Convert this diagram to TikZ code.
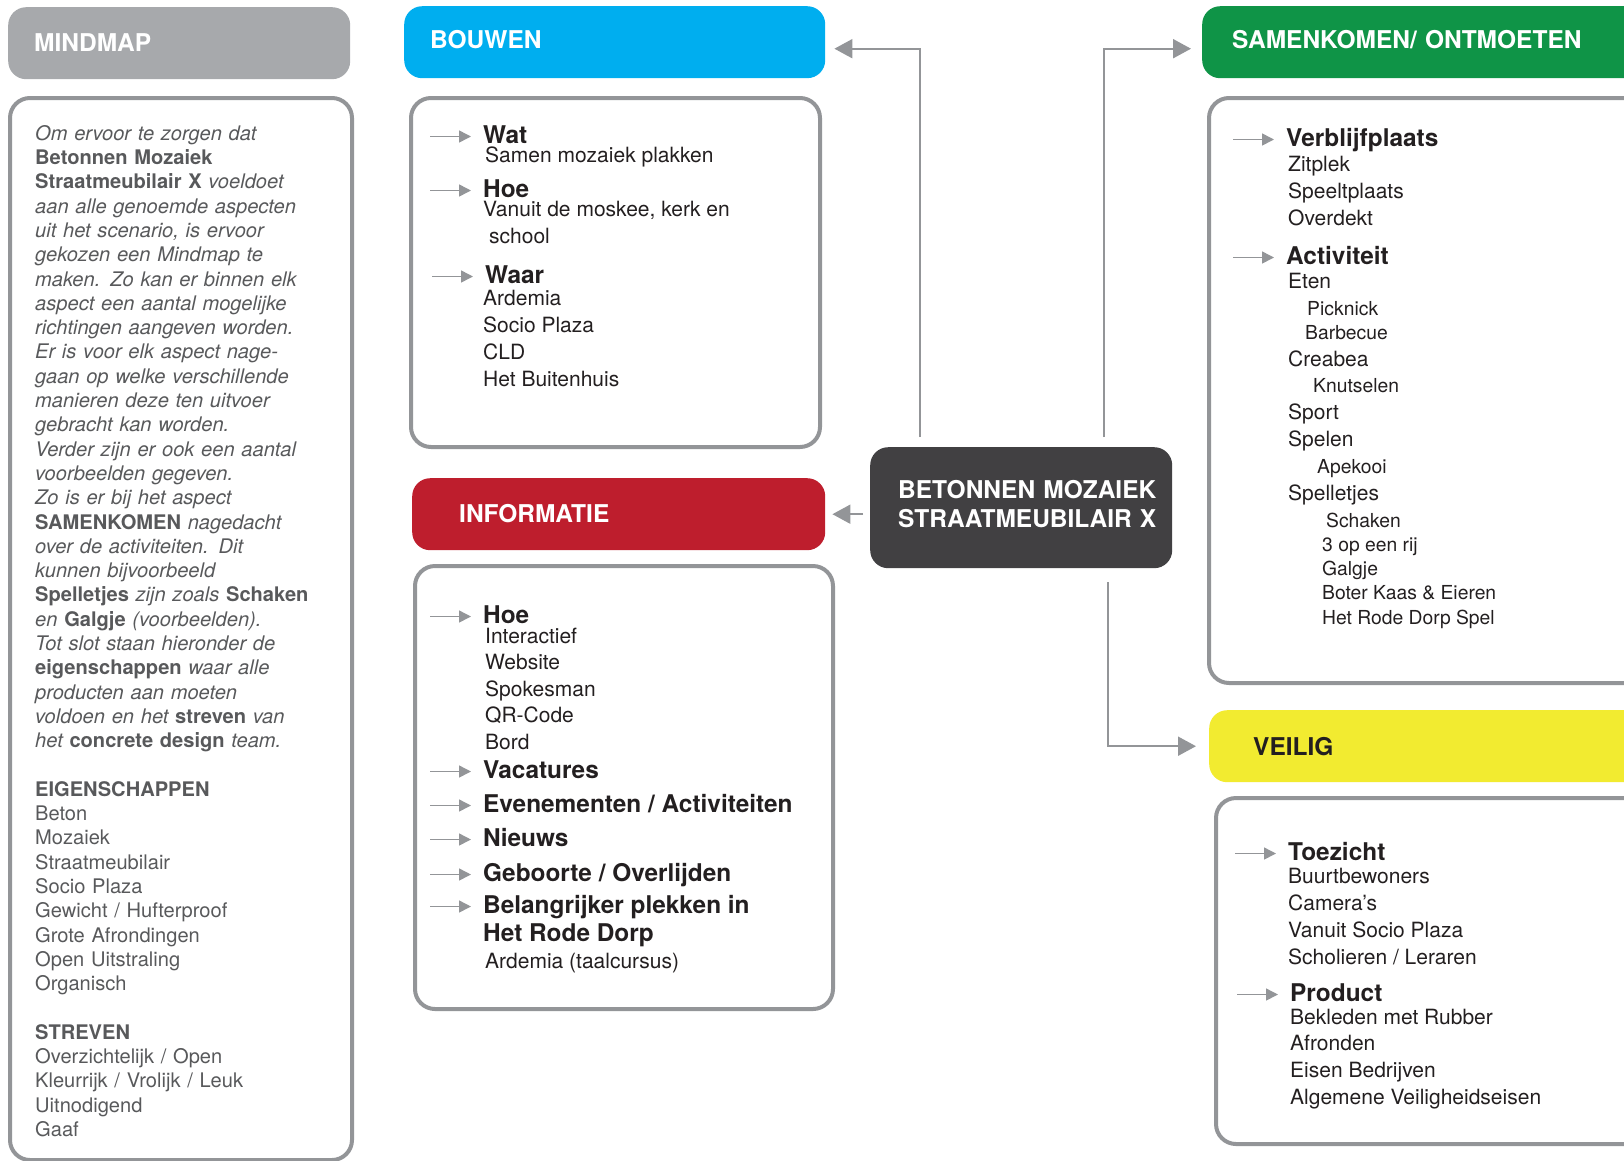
\documentclass[tikz,border=0pt]{standalone}
\usepackage{fontspec}
\setmainfont{TeX Gyre Heros}
\usetikzlibrary{arrows.meta}

\definecolor{hdrgray}{HTML}{A7A9AC}
\definecolor{bouwencyan}{HTML}{00AEEF}
\definecolor{inforood}{HTML}{BE1E2D}
\definecolor{samengroen}{HTML}{0F9447}
\definecolor{veiliggeel}{HTML}{F2EB30}
\definecolor{kerngrijs}{HTML}{414042}
\definecolor{lijngrijs}{HTML}{939598}
\definecolor{inkt}{HTML}{231F20}
\definecolor{mmgrijs}{HTML}{58595B}

\newcommand{\kw}[1]{{\upshape\bfseries #1}}

\begin{document}
\begin{tikzpicture}[x=1pt, y=-1pt,
  header/.style={anchor=north west, rounded corners=18pt, minimum height=72pt, inner ysep=0pt, text depth=6pt, align=left, text=white, font=\fontsize{24.5}{29}\selectfont\bfseries},
  body/.style={anchor=north west, draw=lijngrijs, line width=4pt, rounded corners=20pt, inner sep=0pt},
  kop/.style={anchor=base west, inner sep=0pt, text height=18pt, text depth=5pt, text=inkt, font=\fontsize{24.4}{28}\selectfont\bfseries},
  item/.style={anchor=base west, inner sep=0pt, text=inkt, font=\fontsize{21}{26}\selectfont},
  subitem/.style={anchor=base west, inner sep=0pt, text=inkt, font=\fontsize{19.3}{23}\selectfont},
  conn/.style={draw=lijngrijs, line width=2pt, -{Triangle[length=18pt,width=19pt]}},
  pointer/.style={draw=lijngrijs, line width=1.5pt, -{Triangle[length=12pt,width=12pt]}}
]

\useasboundingbox (0,0) rectangle (1624,1160);
\clip (0,0) rectangle (1624,1160);

% ============================================
% Headers and frames
% ============================================
\node[header, fill=hdrgray, inner xsep=26pt, text width=290pt, text depth=2pt] (mindmap) at (8,7) {MINDMAP};
\node[body, minimum width=342pt, minimum height=1062pt] (mindmapvak) at (8,96) {};

\node[header, fill=bouwencyan, inner xsep=26pt, text width=369pt] (bouwen) at (404,6) {BOUWEN};
\node[body, minimum width=409pt, minimum height=349pt] (bouwenvak) at (409,96) {};

\node[header, fill=inforood, inner xsep=47pt, text width=319pt, text depth=2pt] (info) at (412,478) {INFORMATIE};
\node[body, minimum width=418pt, minimum height=443pt] (infovak) at (413,564) {};

\node[header, fill=samengroen, inner xsep=30pt, text width=390pt] (samen) at (1202,6) {SAMENKOMEN/ ONTMOETEN};
\node[body, minimum width=450pt, minimum height=585pt] (samenvak) at (1207,96) {};

\node[header, fill=veiliggeel, text=inkt, inner xsep=44pt, text width=362pt, text depth=0pt] (veilig) at (1209,710) {VEILIG};
\node[body, minimum width=450pt, minimum height=346pt] (veiligvak) at (1214,796) {};

\node[header, fill=kerngrijs, minimum height=121pt, inner xsep=28pt, text width=246pt, text depth=37pt] (kern) at (870,447) {\mbox{BETONNEN MOZAIEK}\\\mbox{STRAATMEUBILAIR X}};

% Connectors from the centre
\draw[conn, shorten <=10pt, shorten >=9pt] ([xshift=50pt]kern.north west) |- ([yshift=-6.5pt]bouwen.east);
\draw[conn, shorten <=10pt, shorten >=11pt] ([xshift=-68pt]kern.north east) |- ([yshift=-6.5pt]samen.west);
\draw[conn, shorten <=7pt, shorten >=7pt] (info.east -| kern.west) -- (info.east);
\draw[conn, shorten <=14pt, shorten >=13pt] ([xshift=-64pt]kern.south east) |- (veilig.west);

% ============================================
% MINDMAP text
% ============================================
\node[anchor=north west, inner sep=0pt, text width=300pt, align=left, text=mmgrijs, font=\fontsize{20.1}{24.3}\selectfont\itshape] (mmtekst) at (35,125) {%
Om ervoor te zorgen dat\\
\kw{Betonnen Mozaiek}\\
\kw{Straatmeubilair X} voeldoet\\
aan alle genoemde aspecten\\
uit het scenario, is ervoor\\
gekozen een Mindmap te\\
maken. Zo kan er binnen elk\\
aspect een aantal mogelijke\\
richtingen aangeven worden.\\
Er is voor elk aspect nage-\\
gaan op welke verschillende\\
manieren deze ten uitvoer\\
gebracht kan worden.\\
Verder zijn er ook een aantal\\
voorbeelden gegeven.\\
Zo is er bij het aspect\\
\kw{SAMENKOMEN} nagedacht\\
over de activiteiten. Dit\\
kunnen bijvoorbeeld\\
\kw{Spelletjes} zijn zoals \kw{Schaken}\\
en \kw{Galgje} (voorbeelden).\\
Tot slot staan hieronder de\\
\kw{eigenschappen} waar alle\\
producten aan moeten\\
voldoen en het \kw{streven} van\\
het \kw{concrete design} team.\\[24.3pt]
\kw{EIGENSCHAPPEN}\\
\upshape Beton\\
Mozaiek\\
Straatmeubilair\\
Socio Plaza\\
Gewicht / Hufterproof\\
Grote Afrondingen\\
Open Uitstraling\\
Organisch\\[24.3pt]
\kw{STREVEN}\\
Overzichtelijk / Open\\
Kleurrijk / Vrolijk / Leuk\\
Uitnodigend\\
Gaaf};

% ============================================
% BOUWEN
% ============================================
\node[kop] (wat) at (483,143) {Wat};
\node[item] (wat-0) at (485,162) {Samen mozaiek plakken};
\node[kop] (hoe) at (483,197) {Hoe};
\node[item] (hoe-0) at (483,216) {Vanuit de moskee, kerk en};
\node[item] (hoe-1) at (489,243) {school};
\node[kop] (waar) at (485,283) {Waar};
\foreach \t [count=\i from 0] in {Ardemia, Socio Plaza, CLD, Het Buitenhuis}
  \node[item] (waar-\i) at (483,{305+27*\i}) {\t};

% ============================================
% INFORMATIE
% ============================================
\node[kop] (ihoe) at (483,623) {Hoe};
\foreach \t [count=\i from 0] in {Interactief, Website, Spokesman, QR-Code, Bord}
  \node[item] (ihoe-\i) at (485,{643+26.5*\i}) {\t};
\node[kop] (vac) at (483,778) {Vacatures};
\node[kop] (even) at (483,812) {Evenementen / Activiteiten};
\node[kop] (nieuws) at (483,846) {Nieuws};
\node[kop] (geb) at (483,881) {Geboorte / Overlijden};
\node[kop] (belang) at (483,913) {Belangrijker plekken in};
\node[kop] (dorp) at (483,941) {Het Rode Dorp};
\node[item] (taal) at (485,968) {Ardemia (taalcursus)};

% ============================================
% SAMENKOMEN / ONTMOETEN
% ============================================
\node[kop] (verblijf) at (1286,146) {Verblijfplaats};
\foreach \t [count=\i from 0] in {Zitplek, Speeltplaats, Overdekt}
  \node[item] (verblijf-\i) at (1288,{171+27*\i}) {\t};
\node[kop] (activ) at (1286,264) {Activiteit};
\node[item] (eten) at (1288,288) {Eten};
\node[subitem] (picknick) at (1307,315) {Picknick};
\node[subitem] (barbecue) at (1305,339) {Barbecue};
\node[item] (creabea) at (1288,366) {Creabea};
\node[subitem] (knutselen) at (1313,392) {Knutselen};
\node[item] (sport) at (1288,419) {Sport};
\node[item] (spelen) at (1288,446) {Spelen};
\node[subitem] (apekooi) at (1317,473) {Apekooi};
\node[item] (spelletjes) at (1288,500) {Spelletjes};
\node[subitem] (schaken) at (1326,527) {Schaken};
\foreach \t [count=\i from 0] in {3 op een rij, Galgje, Boter Kaas \& Eieren, Het Rode Dorp Spel}
  \node[subitem] (spel-\i) at (1322,{551+24.4*\i}) {\t};

% ============================================
% VEILIG
% ============================================
\node[kop] (toez) at (1288,860) {Toezicht};
\foreach \t [count=\i from 0] in {Buurtbewoners, Camera’s, Vanuit Socio Plaza, Scholieren / Leraren}
  \node[item] (toez-\i) at (1288,{883+27*\i}) {\t};
\node[kop] (prod) at (1290,1001) {Product};
\foreach \t [count=\i from 0] in {Bekleden met Rubber, Afronden, Eisen Bedrijven, Algemene Veiligheidseisen}
  \node[item] (prod-\i) at (1290,{1024+26.7*\i}) {\t};

% Small pointers in front of each heading
\foreach \k in {wat, hoe, waar, ihoe, vac, even, nieuws, geb, belang, verblijf, activ, toez, prod}
  \draw[pointer] ([xshift=-53pt]\k.west) -- ([xshift=-12pt]\k.west);

\end{tikzpicture}
\end{document}
